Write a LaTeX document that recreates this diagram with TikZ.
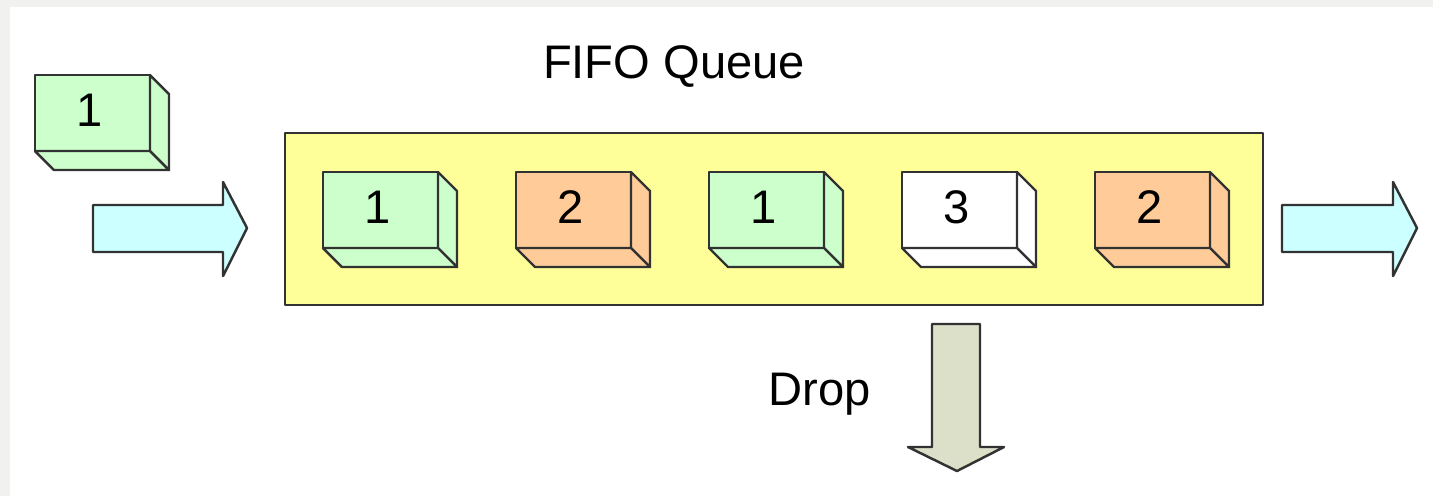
\documentclass[tikz,border=0pt]{standalone}
\usepackage{fontspec}
\setmainfont{Liberation Sans}
\usepackage{tikz}
\definecolor{pgreen}{RGB}{204,255,204}
\definecolor{porange}{RGB}{255,204,153}
\definecolor{qyellow}{RGB}{255,255,153}
\definecolor{acyan}{RGB}{204,255,255}
\definecolor{adrop}{RGB}{221,224,201}
\definecolor{bgrey}{RGB}{241,242,239}
\definecolor{edge}{RGB}{50,50,50}
\tikzset{
  box/.style={draw=edge, line width=0.7pt, line join=round},
  lbl/.style={inner sep=0pt, anchor=base, font=\fontsize{13.4}{16}\selectfont}
}
\newcommand{\pkt}[4]{%
  \begin{scope}[shift={#2}]
    \filldraw[box, fill=#3] (0,0) rectangle (115,76);
    \filldraw[box, fill=#3] (115,0) -- (134,19) -- (134,95) -- (115,76) -- cycle;
    \filldraw[box, fill=#3] (0,76) -- (19,95) -- (134,95) -- (115,76) -- cycle;
    \node[lbl] (#1) at (55,51) {#4};
  \end{scope}}

\begin{document}
\begin{tikzpicture}[x=0.01cm, y=-0.01cm]
    \fill[bgrey] (0,0) rectangle (1433,496);
    \fill[white] (10,7) rectangle (1433,496);
    \useasboundingbox (0,0) rectangle (1433,496);
    \pkt{pin}{(35,75)}{pgreen}{1}
    \filldraw[box, fill=acyan] (93,205) -- (223,205) -- (223,182) -- (247,228) -- (223,276) -- (223,252) -- (93,252) -- cycle;
    \filldraw[box, fill=qyellow] (285,133) rectangle (1263,305);
    \node[lbl] (title) at (674,78) {FIFO Queue};
    \pkt{p1}{(323,172)}{pgreen}{1}
    \pkt{p2}{(516,172)}{porange}{2}
    \pkt{p3}{(709,172)}{pgreen}{1}
    \pkt{p4}{(902,172)}{white}{3}
    \pkt{p5}{(1095,172)}{porange}{2}
    \filldraw[box, fill=acyan] (1282,205) -- (1393,205) -- (1393,182) -- (1417,228) -- (1393,276) -- (1393,252) -- (1282,252) -- cycle;
    \filldraw[box, fill=adrop] (932,324) -- (980,324) -- (980,447) -- (1004,447) -- (957,471) -- (908,447) -- (932,447) -- cycle;
    \node[lbl] (drop) at (820,405) {Drop};
\end{tikzpicture}
\end{document}
